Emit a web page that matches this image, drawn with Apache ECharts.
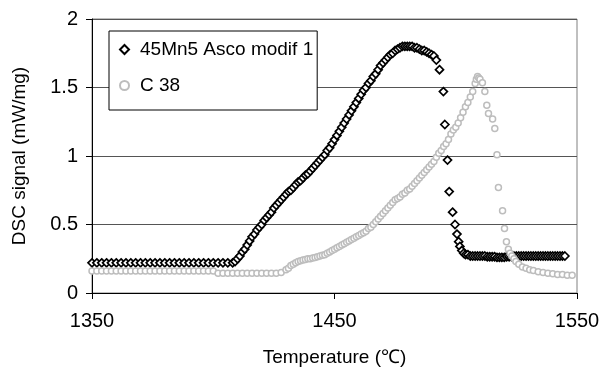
<!DOCTYPE html>
<html><head><meta charset="utf-8">
<script src="https://cdn.jsdelivr.net/npm/echarts@6/dist/echarts.min.js"></script>
<style>html,body{margin:0;padding:0;background:#fff}#c{width:600px;height:372px}</style>
</head><body><div id="c"></div>
<script>
const seriesNames = ['45Mn5 Asco modif 1', 'C 38'];
const xTicks = [1350, 1450, 1550];
const yTicks = [0, 0.5, 1, 1.5, 2];

const temps1 = [
 1350,1352,1354,1356,1358,1360,1362,1364,1366,1368,
 1370,1372,1374,1376,1378,1380,1382,1384,1386,1388,
 1390,1392,1394,1396,1398,1400,1402,1404,1406,1408,
 1409,1410,1411,1412,1413,1414,1415,1416,1417,1418,
 1419,1420,1421,1422,1423,1424,1425,1426,1427,1428,
 1429,1430,1431,1432,1433,1434,1435,1436,1437,1438,
 1439,1440,1441,1442,1443,1444,1445,1446,1447,1448,
 1449,1450,1451,1452,1453,1454,1455,1456,1457,1458,
 1459,1460,1461,1462,1463,1464,1465,1466,1467,1468,
 1469,1470,1471,1472,1473,1474,1475,1476,1477,1478,
 1479,1480,1481,1482,1483,1484,1485,1486,1487,1488,
 1489,1490,1491,1492,
 1493.3,1494.9,1495.5,1496.6,1497.3,1498.7,1499.7,1500.5,1501.2,1501.7,
 1502.5,1503.3,1504,
 1505,1506,1507,1508,1509,1510,1511,1512,1513,1514,
 1515,1516,1517,1518,1519,1520,1521,1522,1523,1524,
 1525,1526,1527,1528,1529,1530,1531,1532,1533,1534,
 1535,1536,1537,1538,1539,1540,1541,1542,1543,1544,
 1545
];
const dsc1 = [
 0.22,0.22,0.22,0.22,0.22,0.22,0.22,0.22,0.22,0.22,
 0.22,0.22,0.22,0.22,0.22,0.22,0.22,0.22,0.22,0.22,
 0.22,0.22,0.22,0.22,0.22,0.22,0.22,0.22,0.22,0.22,
 0.23,0.25,0.27,0.30,0.32,0.35,0.38,0.41,0.43,0.46,
 0.48,0.50,0.53,0.55,0.57,0.59,0.62,0.64,0.66,0.68,
 0.70,0.72,0.74,0.75,0.77,0.79,0.81,0.82,0.84,0.86,
 0.87,0.89,0.91,0.93,0.95,0.97,0.99,1.01,1.04,1.06,
 1.09,1.12,1.15,1.18,1.21,1.24,1.27,1.30,1.33,1.36,
 1.39,1.42,1.45,1.48,1.50,1.53,1.55,1.58,1.60,1.63,
 1.66,1.68,1.70,1.72,1.74,1.75,1.77,1.78,1.79,1.80,
 1.80,1.80,1.80,1.80,1.79,1.79,1.78,1.77,1.77,1.76,
 1.75,1.74,1.73,1.70,
 1.63,1.47,1.23,0.97,0.74,0.59,0.50,0.43,0.375,0.34,
 0.31,0.29,0.28,
 0.28,0.27,0.27,0.27,0.27,0.27,0.27,0.27,0.265,0.265,
 0.265,0.265,0.26,0.26,0.26,0.26,0.265,0.265,0.265,0.27,
 0.27,0.27,0.27,0.27,0.27,0.27,0.27,0.27,0.27,0.27,
 0.27,0.27,0.27,0.27,0.27,0.27,0.27,0.27,0.27,0.27,
 0.27
];

const temps2 = [
 1350,1352,1354,1356,1358,1360,1362,1364,1366,1368,
 1370,1372,1374,1376,1378,1380,1382,1384,1386,1388,
 1390,1392,1394,1396,1398,1400,
 1402,1404,1406,1408,1410,1412,1414,1416,1418,1420,
 1422,1424,1426,
 1428,1430,
 1431,1432,1433,1434,1435,1436,1437,1438,1439,1440,
 1441,1442,1443,1444,1445,1446,1447,1448,1449,1450,
 1451,1452,1453,1454,1455,1456,1457,1458,1459,1460,
 1461,1462,1463,1464,1465,1466,1467,1468,1469,1470,
 1471,1472,1473,1474,1475,1476,1477,1478,1479,1480,
 1481,1482,1483,1484,1485,1486,1487,1488,1489,1490,
 1491,1492,1493,1494,1495,1496,1497,1498,1499,1500,
 1501,1502,1503,1504,1505,1506,1507,1508,
 1508.5,1509,1509.5,1510,1511,1512,1512.8,1513.5,1515.2,1516.1,
 1517,1517.6,1519.3,1520.1,1520.9,1521.7,1522.4,1523.1,1524,1524.8,
 1526,1527.5,1529,1530.5,1532,1534,1536,1538,1540,1542,
 1544,1546,1548
];
const dsc2 = [
 0.16,0.16,0.16,0.16,0.16,0.16,0.16,0.16,0.16,0.16,
 0.16,0.16,0.16,0.16,0.16,0.16,0.16,0.16,0.16,0.16,
 0.16,0.16,0.16,0.16,0.16,0.16,
 0.145,0.145,0.145,0.145,0.145,0.145,0.145,0.145,0.145,0.145,
 0.145,0.145,0.145,
 0.15,0.17,
 0.18,0.20,0.21,0.22,0.23,0.235,0.24,0.245,0.25,0.25,
 0.255,0.26,0.265,0.27,0.275,0.28,0.29,0.30,0.31,0.32,
 0.33,0.34,0.35,0.36,0.37,0.38,0.39,0.40,0.41,0.42,
 0.43,0.44,0.45,0.47,0.48,0.50,0.52,0.54,0.56,0.58,
 0.60,0.62,0.64,0.66,0.68,0.69,0.70,0.72,0.73,0.75,
 0.76,0.78,0.80,0.82,0.84,0.86,0.88,0.90,0.92,0.94,
 0.96,0.99,1.02,1.04,1.07,1.09,1.12,1.16,1.19,1.21,
 1.24,1.28,1.32,1.36,1.39,1.43,1.47,1.53,
 1.56,1.58,1.57,1.56,1.535,1.47,1.37,1.31,1.27,1.20,
 1.01,0.77,0.60,0.47,0.375,0.32,0.29,0.27,0.25,0.23,
 0.21,0.19,0.18,0.17,0.165,0.155,0.15,0.145,0.14,0.135,
 0.135,0.13,0.13
];

const pairs = (xs, ys) => xs.map((x, i) => [x, ys[i]]);
const font = '"Liberation Sans", Arial, sans-serif';
const chart = echarts.init(document.getElementById('c'), null, {renderer: 'canvas'});
chart.setOption({
  animation: false,
  backgroundColor: '#fff',
  textStyle: {fontFamily: font},
  grid: {left: 92, right: 23, top: 19, bottom: 79, show: true, borderColor: '#808080', borderWidth: 1, containLabel: false, outerBoundsMode: 'none'},
  legend: {
    data: seriesNames, orient: 'vertical', left: 109, top: 31,
    backgroundColor: '#fff', borderColor: '#000', borderWidth: 1, borderRadius: 0,
    padding: [9, 4, 15, 10], itemGap: 17, itemWidth: 9, itemHeight: 9,
    textStyle: {fontSize: 19, color: '#000', fontFamily: font, padding: [0, 0, 0, 6]}
  },
  xAxis: {
    type: 'value', min: xTicks[0], max: xTicks[xTicks.length - 1], interval: xTicks[1] - xTicks[0],
    name: 'Temperature (℃)', nameLocation: 'middle', nameGap: 55,
    nameTextStyle: {fontSize: 19, color: '#000', fontFamily: font},
    axisLine: {show: true, lineStyle: {color: '#000', width: 1}},
    axisTick: {show: true, inside: false, length: 6, lineStyle: {color: '#000'}},
    axisLabel: {fontSize: 20, color: '#000', margin: 18, fontFamily: font, formatter: v => String(v)},
    splitLine: {show: false}
  },
  yAxis: {
    type: 'value', min: yTicks[0], max: yTicks[yTicks.length - 1], interval: yTicks[1] - yTicks[0],
    name: 'DSC signal (mW/mg)', nameLocation: 'middle', nameGap: 63,
    nameTextStyle: {fontSize: 19, color: '#000', fontFamily: font},
    axisLine: {show: true, lineStyle: {color: '#000', width: 1}},
    axisTick: {show: true, inside: false, length: 6, lineStyle: {color: '#000'}},
    axisLabel: {fontSize: 20, color: '#000', margin: 14, fontFamily: font, formatter: v => String(v)},
    splitLine: {show: true, lineStyle: {color: '#555', width: 1}}
  },
  series: [
    {name: seriesNames[0], type: 'scatter', symbol: 'diamond', symbolSize: 8,
     itemStyle: {color: '#fff', borderColor: '#000', borderWidth: 1.7, opacity: 1},
     data: pairs(temps1, dsc1)},
    {name: seriesNames[1], type: 'scatter', symbol: 'circle', symbolSize: 6,
     itemStyle: {color: '#fff', borderColor: '#bdbdbd', borderWidth: 1.5, opacity: 1},
     data: pairs(temps2, dsc2)}
  ]
});
</script></body></html>
